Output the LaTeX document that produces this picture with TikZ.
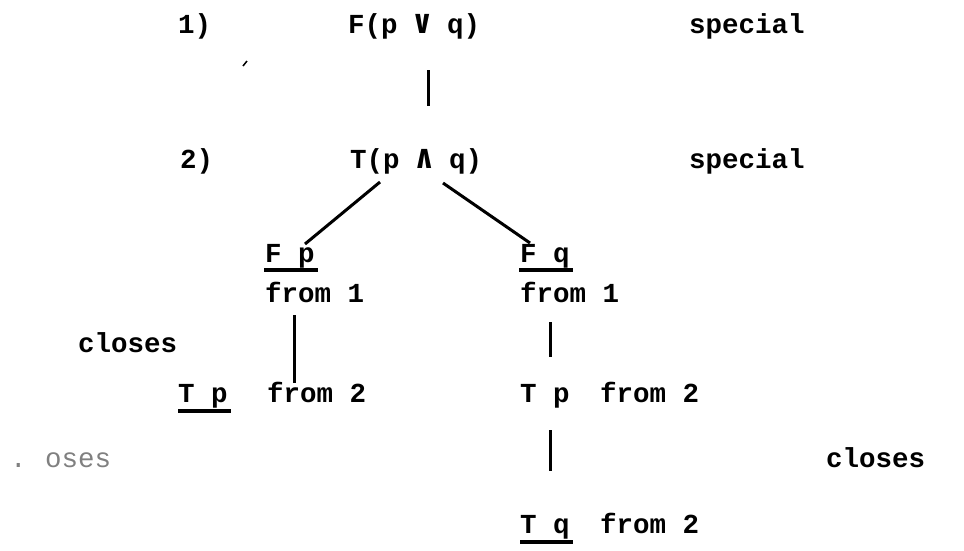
\documentclass[tikz,border=0pt]{standalone}
\usepackage{fontspec}
\setmonofont{Liberation Mono}
\newfontfamily\symfont{DejaVu Sans Mono}
\newcommand{\opsym}[1]{\makebox[16.5pt]{\fontsize{33}{30}\selectfont\symfont\bfseries #1}}
\begin{document}
\begin{tikzpicture}[x=1pt,y=-1pt,
  txt/.style={anchor=base west,inner sep=0pt,outer sep=0pt,font=\fontsize{27.5}{30}\selectfont\ttfamily\bfseries},
  faint/.style={txt,text=black!50,font=\fontsize{27.5}{30}\selectfont\ttfamily},
  edge/.style={line width=3pt},
  ul/.style={line width=3.2pt}]
\useasboundingbox (0,0) rectangle (964,550);
% row 1
\node[txt] (n1) at (178,33) {1)};
\node[txt] (a) at (348,33) {F(p \opsym{∨} q)};
\node[txt] (s1) at (689,33) {special};
% row 2
\node[txt] (n2) at (180,168) {2)};
\node[txt] (b) at (350,168) {T(p \opsym{∧} q)};
\node[txt] (s2) at (689,168) {special};
% row 3
\node[txt] (fp) at (265,262) {F p};
\node[txt] (fp1) at (265,302) {from 1};
\node[txt] (fq) at (520,262) {F q};
\node[txt] (fq1) at (520,302) {from 1};
\draw[ul] ([yshift=-8pt,xshift=-1pt]fp.base west) -- ([yshift=-8pt,xshift=3pt]fp.base east);
\draw[ul] ([yshift=-8pt,xshift=-1pt]fq.base west) -- ([yshift=-8pt,xshift=3pt]fq.base east);
% closes left
\node[txt] (c1) at (78,352) {closes};
% row 4
\node[txt] (tp) at (178,402) {T p};
\node[txt] (tp2) at (267,402) {from 2};
\draw[ul] ([yshift=-9pt]tp.base west) -- ([yshift=-9pt,xshift=3pt]tp.base east);
\node[txt] (tpr) at (520,402) {T p};
\node[txt] (tpr2) at (600,402) {from 2};
% faint closes and right closes
\node[faint] (fd) at (10,467) {.};
\node[faint] (fo) at (45,467) {oses};
\node[txt] (c2) at (826,467) {closes};
% row 5
\node[txt] (tq) at (520,533) {T q};
\node[txt] (tq2) at (600,533) {from 2};
\draw[ul] ([yshift=-9pt]tq.base west) -- ([yshift=-9pt,xshift=3pt]tq.base east);
% connectors
\coordinate (l1a) at (428,70);  \coordinate (l1b) at (428,106);
\coordinate (l2a) at (380,182); \coordinate (l2b) at (305,244);
\coordinate (l3a) at (443,183); \coordinate (l3b) at (530,243);
\coordinate (l4a) at (294,315); \coordinate (l4b) at (294,383);
\coordinate (l5a) at (550,322); \coordinate (l5b) at (550,357);
\coordinate (l6a) at (550,430); \coordinate (l6b) at (550,471);
\draw[edge] (l1a) -- (l1b);
\draw[edge] (l2a) -- (l2b);
\draw[edge] (l3a) -- (l3b);
\draw[edge] (l4a) -- (l4b);
\draw[edge] (l5a) -- (l5b);
\draw[edge] (l6a) -- (l6b);
% stray mark
\coordinate (m1) at (243,66); \coordinate (m2) at (247,61);
\draw[line width=1.5pt] (m1) -- (m2);
\end{tikzpicture}
\end{document}
